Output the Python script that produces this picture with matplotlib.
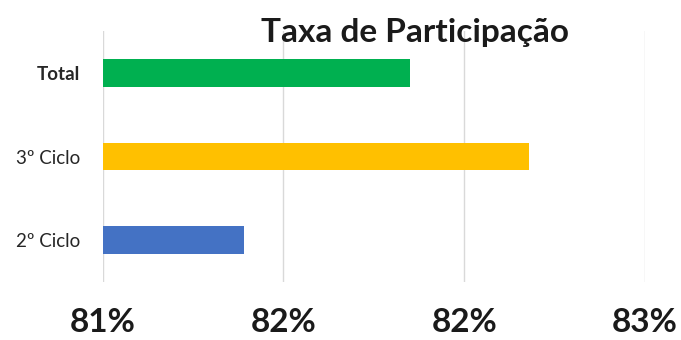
import matplotlib.pyplot as plt
from matplotlib.ticker import FuncFormatter
from decimal import Decimal, ROUND_HALF_UP

# Data
CATEGORIES = ["2º Ciclo", "3º Ciclo", "Total"]
VALUES = [81.39, 82.18, 81.85]
COLORS = ["#4472C4", "#FFC000", "#00B050"]
X_TICKS = [81.0, 81.5, 82.0, 82.5]
TITLE = "Taxa de Participação"

plt.rcParams['font.family'] = ['Lato', 'DejaVu Sans']


def pct_label(v, pos):
    # whole percent, halves rounded up
    return "%d%%" % int(Decimal(str(v)).quantize(Decimal('1'), rounding=ROUND_HALF_UP))


fig = plt.figure(figsize=(6.81, 3.40), dpi=100)
ax = fig.add_axes([0.1507, 0.1706, 0.7963, 0.7382])

ypos = list(range(len(CATEGORIES)))
ax.barh(ypos, VALUES, height=0.33, color=COLORS, zorder=3)

ax.set_xlim(X_TICKS[0], X_TICKS[-1])
ax.set_ylim(-0.5, len(CATEGORIES) - 0.5)
ax.set_xticks(X_TICKS)
ax.xaxis.set_major_formatter(FuncFormatter(pct_label))
ax.grid(axis='x', color='#D9D9D9', linewidth=1, zorder=0)

ax.set_yticks(ypos)
ax.set_yticklabels(CATEGORIES)
for lbl in ax.get_yticklabels():
    lbl.set_fontsize(13.5)
    lbl.set_color('#262626')
    lbl.set_fontweight('bold' if lbl.get_text() == "Total" else 'normal')

ax.tick_params(axis='x', length=0, pad=19, labelsize=24)
ax.tick_params(axis='y', length=0, pad=16)
for lbl in ax.get_xticklabels():
    lbl.set_fontweight('bold')
    lbl.set_color('#1a1a1a')

for s in ax.spines.values():
    s.set_visible(False)

fig.text(415 / 681, 0.905, TITLE, ha='center', va='center',
         fontsize=24, fontweight='bold', color='#1a1a1a')

fig.savefig("out.png", dpi=100)
